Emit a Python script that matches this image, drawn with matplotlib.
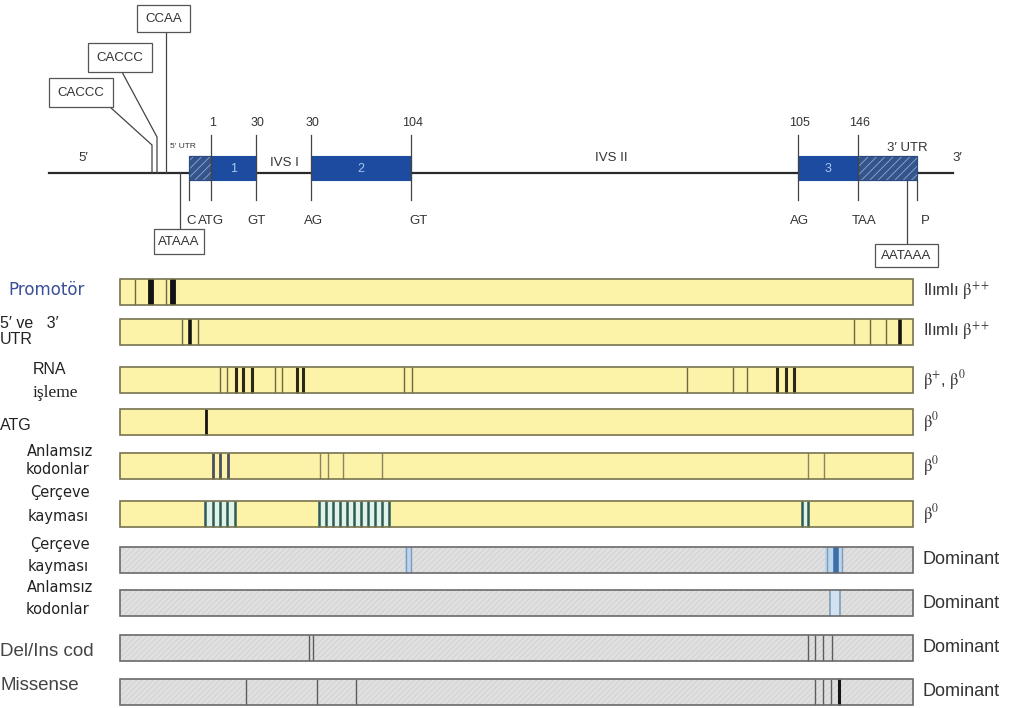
import matplotlib
matplotlib.use("Agg")
import matplotlib.pyplot as plt
from matplotlib.patches import Rectangle

plt.rcParams['font.family'] = ['Liberation Sans', 'DejaVu Sans']
plt.rcParams['mathtext.fontset'] = 'stix'
plt.rcParams['hatch.linewidth'] = 0.6

# --- gene map (x along the map, pixel scale of the drawing) ---
gene_start, gene_end = 49, 953
exons = [(189, 256), (311, 411), (798, 917)]
coding = [(211, 256, '1'), (311, 411, '2'), (798, 858, '3')]
utr_regions = [(189, 211), (858, 917)]
ticks_full = [211, 256, 311, 411, 798, 858]
ticks_low = [189, 917]
top_numbers = ['1', '30', '30', '104', '105', '146']
bottom_words = [(191, 'C'), (211, 'ATG'), (257, 'GT'), (314, 'AG'), (419, 'GT'),
                (800, 'AG'), (864, 'TAA'), (925, 'P')]

# --- mutation tracks ---
track_left, track_right = 120, 913
track_tops = [279, 319, 367, 409, 453, 501, 547, 590, 635, 679]
track_kind = ['y', 'y', 'y', 'y', 'y', 'y', 'g', 'g', 'g', 'g']
phenotypes = [r'Ilımlı $\mathrm{\beta}^{++}$', r'Ilımlı $\mathrm{\beta}^{++}$',
              r'$\mathrm{\beta}^{+}$, $\mathrm{\beta}^{0}$',
              r'$\mathrm{\beta}^{0}$', r'$\mathrm{\beta}^{0}$', r'$\mathrm{\beta}^{0}$',
              'Dominant', 'Dominant', 'Dominant', 'Dominant']

promoter_thin = [135, 166]
promoter_thick = [151, 173]
utr_thin = [182, 198, 854, 870, 886]
utr_thick = [190, 900]
rna_thin = [220, 227, 275, 282, 404, 412, 687, 733, 747]
rna_thick = [236, 243, 252, 297, 303, 777, 786, 794]
atg_thick = [206]
nonsense_dark = [213, 220, 228]
nonsense_thin = [320, 328, 343, 382, 808, 824]
frameshift_bands = [(204, 236), (318, 390), (801, 809)]
frameshift_lines = [205, 213, 220, 227, 235,
                    319, 326, 333, 340, 347, 354, 361, 368, 375, 382, 389,
                    802, 808]
dom_fs_bands = [(405, 412), (825, 843)]
dom_fs_lines = [406, 411, 827, 842]
dom_fs_dark = [836]
dom_ns_bands = [(830, 840)]
dom_ns_lines = [830, 840]
delins_lines = [309, 313, 808, 815, 823, 832]
missense_lines = [246, 317, 356, 815, 823, 831]
missense_thick = [839]

TRACK_H = 26
YELLOW = '#fcf2a8'
GRAY = '#e0e0e0'
BLUE = '#1c4b9f'

fig = plt.figure(figsize=(10.2, 7.08), dpi=100)
ax = fig.add_axes([0, 0, 1, 1])
ax.set_xlim(0, 1020)
ax.set_ylim(708, 0)
ax.axis('off')

line_c = '#2b2b2b'
text_c = '#333333'

# gene backbone
ax.plot([gene_start, gene_end], [173, 173], color=line_c, lw=1.6, zorder=1)

for x0, x1 in exons:
    ax.add_patch(Rectangle((x0, 156), x1 - x0, 24, facecolor=BLUE, edgecolor=BLUE, lw=0.8, zorder=2))
for x0, x1, name in coding:
    ax.text((x0 + x1) / 2, 169, name, color='#a9c4f0', fontsize=9, ha='center',
            va='center', zorder=4)
for x0, x1 in utr_regions:
    ax.add_patch(Rectangle((x0, 156), x1 - x0, 24, facecolor='#34558c', edgecolor='#93a9cc',
                           lw=0, hatch='////', zorder=3))
    ax.add_patch(Rectangle((x0, 156), x1 - x0, 24, facecolor='none', edgecolor='#2a4a80',
                           lw=0.8, zorder=3))

for x in ticks_full:
    ax.plot([x, x], [135, 200], color='#444444', lw=0.9, zorder=3)
for x in ticks_low:
    ax.plot([x, x], [180, 200], color='#444444', lw=0.9, zorder=3)
for x, t in zip(ticks_full, top_numbers):
    ax.text(x + 2, 123, t, fontsize=9, color=text_c, ha='center', va='center')
for x, t in bottom_words:
    ax.text(x, 221, t, fontsize=9.5, color=text_c, ha='center', va='center')

ax.text(83, 158, '5′', fontsize=9.5, color=text_c, ha='center', va='center')
ax.text(957, 158, '3′', fontsize=9.5, color=text_c, ha='center', va='center')
ax.text(170, 147, '5′ UTR', fontsize=6, color=text_c, ha='left', va='center')
ax.text(907, 148, '3′ UTR', fontsize=9.5, color=text_c, ha='center', va='center')
ax.text(284, 163, 'IVS I', fontsize=9.5, color=text_c, ha='center', va='center')
ax.text(611, 158, 'IVS II', fontsize=9.5, color=text_c, ha='center', va='center')

# promoter / polyA elements with leader lines
ax.plot([166, 166], [32, 173], color='#444444', lw=0.9)
ax.plot([122, 157, 157], [72, 137, 173], color='#444444', lw=0.9)
ax.plot([110, 152, 152], [107, 145, 173], color='#444444', lw=0.9)
ax.plot([180, 180], [173, 229], color='#444444', lw=0.9)
ax.plot([907, 907], [180, 244], color='#444444', lw=0.9)

boxes = [(137, 5, 53, 27, 'CCAA'), (88, 43, 64, 29, 'CACCC'), (49, 78, 64, 29, 'CACCC'),
         (154, 229, 50, 25, 'ATAAA'), (875, 244, 63, 23, 'AATAAA')]
for x, y, w, h, t in boxes:
    ax.add_patch(Rectangle((x, y), w, h, facecolor='white', edgecolor='#555555', lw=0.9, zorder=3))
    ax.text(x + w / 2, y + h / 2 + 0.5, t, fontsize=9.5, color=text_c, ha='center',
            va='center', zorder=4)


def draw_track(top, kind):
    if kind == 'y':
        ax.add_patch(Rectangle((track_left, top), track_right - track_left, TRACK_H,
                               facecolor=YELLOW, edgecolor='none', zorder=1))
        edge = '#77734f'
    else:
        ax.add_patch(Rectangle((track_left, top), track_right - track_left, TRACK_H,
                               facecolor=GRAY, edgecolor='#d0d0d0', lw=0, hatch='//////',
                               zorder=1))
        edge = '#6a6a6a'
    ax.add_patch(Rectangle((track_left, top), track_right - track_left, TRACK_H,
                           facecolor='none', edgecolor=edge, lw=1.2, zorder=5))


def lines(top, xs, color, lw):
    ax.vlines(xs, top, top + TRACK_H, colors=color, lw=lw, zorder=3)


def bands(top, spans, color):
    for x0, x1 in spans:
        ax.add_patch(Rectangle((x0, top), x1 - x0, TRACK_H, facecolor=color,
                               edgecolor='none', zorder=2))


for top, kind in zip(track_tops, track_kind):
    draw_track(top, kind)

olive = '#6d6840'
dark = '#141414'
t = track_tops
lines(t[0], promoter_thin, olive, 1.0)
lines(t[0], promoter_thick, dark, 4.2)
lines(t[1], utr_thin, olive, 1.0)
lines(t[1], utr_thick, dark, 2.6)
lines(t[2], rna_thin, olive, 1.0)
lines(t[2], rna_thick, '#2a2818', 2.2)
lines(t[3], atg_thick, dark, 2.0)
lines(t[4], nonsense_dark, '#4a4f5e', 2.0)
lines(t[4], nonsense_thin, '#8a8460', 1.0)
bands(t[5], frameshift_bands, '#dff3e8')
lines(t[5], frameshift_lines, '#2f5a55', 1.8)
bands(t[6], dom_fs_bands, '#bcd4ec')
lines(t[6], dom_fs_lines, '#7f9cba', 1.0)
lines(t[6], dom_fs_dark, '#3b6ea6', 4.0)
bands(t[7], dom_ns_bands, '#d3e2f1')
lines(t[7], dom_ns_lines, '#7f9cba', 1.2)
lines(t[8], delins_lines, '#5c5c5c', 1.0)
lines(t[9], missense_lines, '#5c5c5c', 1.0)
lines(t[9], missense_thick, dark, 2.2)

# phenotype labels
for top, lab in zip(track_tops, phenotypes):
    fs = 13 if lab == 'Dominant' else 12
    ax.text(923, top + 13, lab, fontsize=fs, color=text_c, ha='left', va='center')

# mutation class labels
sans = ['DejaVu Sans']
ax.text(8, 290, 'Promotör', fontsize=12, color='#3c4f9a', family=sans, ha='left', va='center')
ax.text(0, 323, '5′ ve   3′', fontsize=11.5, color='#222222', ha='left', va='center')
ax.text(0, 339, 'UTR', fontsize=11.5, color='#222222', ha='left', va='center')
ax.text(50, 370, 'RNA', fontsize=11.5, color='#222222', ha='center', va='center')
ax.text(55, 393, 'işleme', fontsize=12.5, color='#222222', family=['Liberation Serif'],
        ha='center', va='center')
ax.text(0, 425, 'ATG', fontsize=11.5, color='#222222', ha='left', va='center')
for y1, y2, a, b in [(451, 470, 'Anlamsız', 'kodonlar'), (493, 516, 'Çerçeve', 'kayması'),
                     (544, 567, 'Çerçeve', 'kayması'), (587, 610, 'Anlamsız', 'kodonlar')]:
    ax.text(60, y1, a, fontsize=10.5, color='#222222', family=sans, ha='center', va='center')
    ax.text(58, y2, b, fontsize=10.5, color='#222222', family=sans, ha='center', va='center')
ax.text(0, 651, 'Del/Ins cod', fontsize=13.5, color='#444444', ha='left', va='center')
ax.text(0, 686, 'Missense', fontsize=13.5, color='#444444', ha='left', va='center')

fig.savefig('out.png', dpi=100, facecolor='white')
